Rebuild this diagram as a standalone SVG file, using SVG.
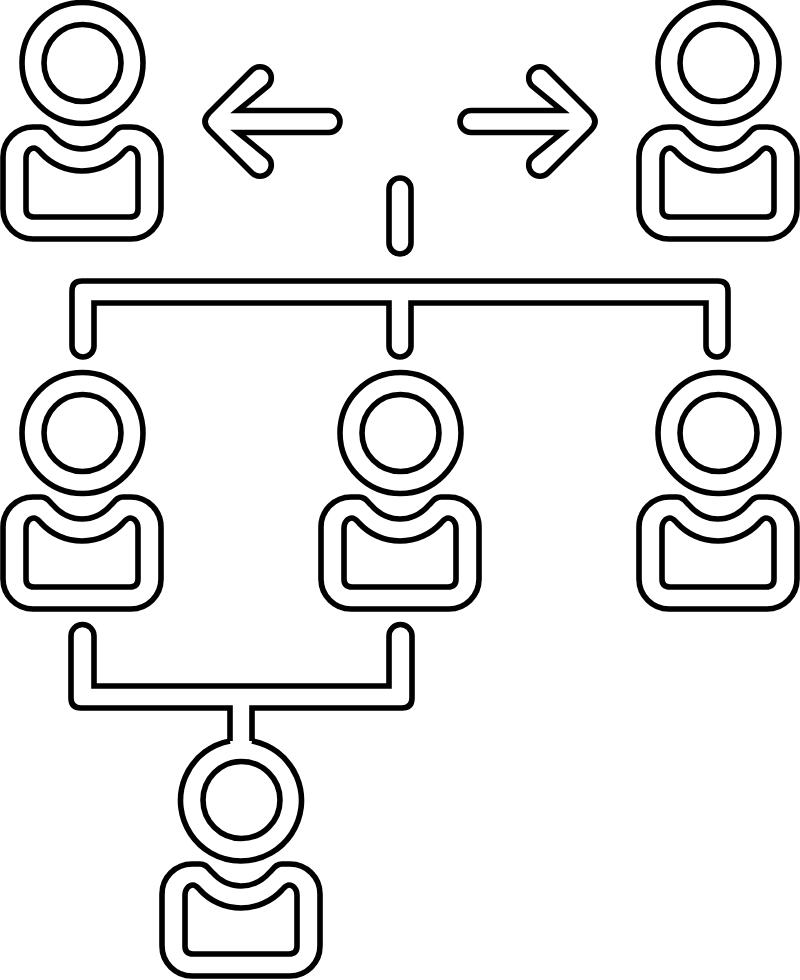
<svg xmlns="http://www.w3.org/2000/svg" width="800" height="980" viewBox="0 0 800 980">
<style>
.l{fill:none;stroke:#000;stroke-width:5.600;stroke-linejoin:miter}
</style>
<defs>
<path id="arrow" class="l" d="M238,110.500 H329 A11,11 0 0 1 329,132.500 H238 L268,157 A11,11 0 0 1 252,173 L209,130 Q201,121.500 209,113 L252,70 A11,11 0 0 1 268,86 Z"/>
<g id="body">
<path class="l" d="M3,157 A30,30 0 0 1 33,127 H41 C47,127 49,131 53,135 C60,143 70,149 82,149 C94,149 104,143 111,135 C115,131 117,127 123,127 H131 A30,30 0 0 1 161,157 V209 A30,30 0 0 1 131,239 H33 A30,30 0 0 1 3,209 Z"/>
<path class="l" d="M26,158 C26,152 30,148 34,148 C37,148 39,151 41,153 C51,164 66,171 82,171 C98,171 113,164 123,153 C125,151 127,148 130,148 C134,148 138,152 138,158 V209 Q138,217 130,217 H34 Q26,217 26,209 Z"/>
</g>
<g id="person">
<circle class="l" cx="82.500" cy="63" r="60.500"/>
<circle class="l" cx="82.500" cy="63" r="38.500"/>
<use href="#body"/>
</g>
</defs>
<rect width="800" height="980" fill="#fff"/>
<g id="connectors">
<use id="arrow-left" href="#arrow"/>
<use id="arrow-right" href="#arrow" transform="matrix(-1 0 0 1 800 0)"/>
<rect class="l" x="389" y="178" width="22" height="76" rx="11"/>
<path class="l" d="M72,346 V291 Q72,281 82,281 H718 Q728,281 728,291 V346 A11,11 0 0 1 706,346 V303 H411 V346 A11,11 0 0 1 389,346 V303 H94 V346 A11,11 0 0 1 72,346 Z"/>
<path class="l" d="M230,741 V708 H81 Q71,708 71,698 V636 A11.500,11.500 0 0 1 94,636 V686 H389 V636 A11.500,11.500 0 0 1 412,636 V698 Q412,708 402,708 H252 V741"/>
</g>
<g id="person-top-left"><use href="#person"/></g>
<g id="person-top-right"><use href="#person" x="636"/></g>
<g id="person-mid-left"><use href="#person" y="370"/></g>
<g id="person-mid-center"><use href="#person" x="318" y="370"/></g>
<g id="person-mid-right"><use href="#person" x="636" y="370"/></g>
<g id="person-bottom">
<path class="l" d="M252,741 A60.500,60.500 0 1 1 230,741"/>
<circle class="l" cx="241.500" cy="800" r="38.500"/>
<use href="#body" x="159" y="737"/>
</g>
</svg>
